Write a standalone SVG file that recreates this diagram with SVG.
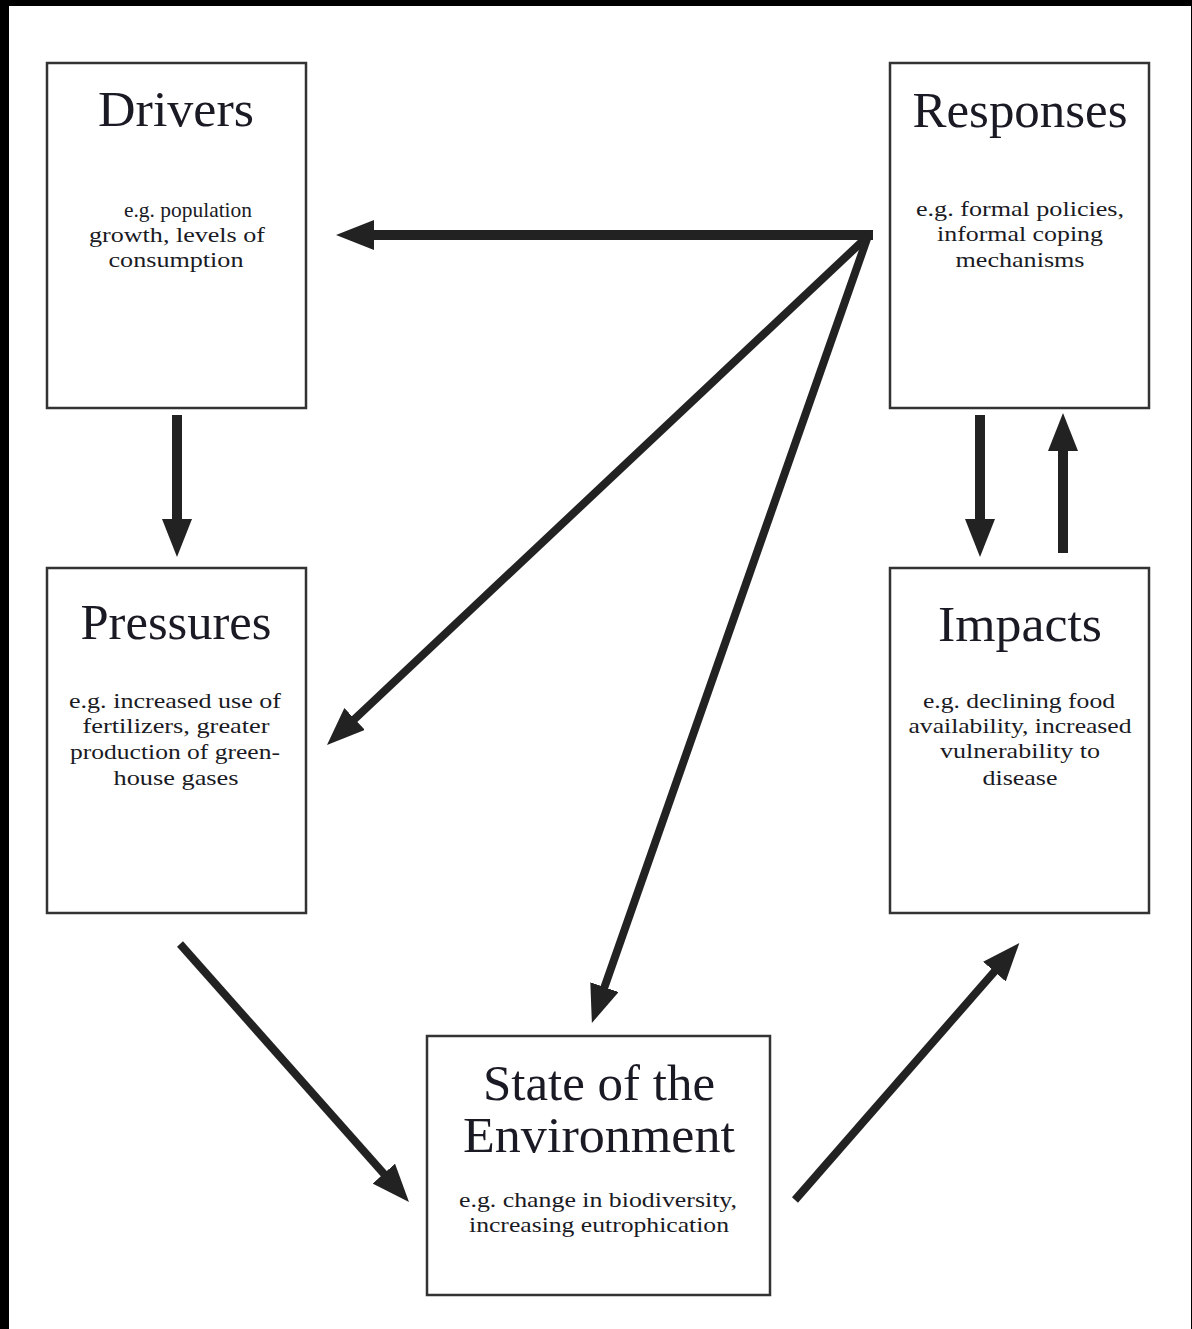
<svg xmlns="http://www.w3.org/2000/svg" width="1192" height="1329" viewBox="0 0 1192 1329">
  <defs>
    <marker id="head" markerUnits="userSpaceOnUse" viewBox="0 -15 38 30" markerWidth="38" markerHeight="30" refX="2" refY="0" orient="auto">
      <path d="M0,-15 L38,0 L0,15 Z" fill="#222"/>
    </marker>
    <style>
      .box { fill: #fff; stroke: #333; stroke-width: 2.5; }
      .title { font-family: "Liberation Serif", "Times New Roman", serif; font-size: 50px; fill: #1a1a24; text-anchor: middle; }
      .note { font-family: "Liberation Serif", "Times New Roman", serif; font-size: 22px; fill: #1a1a24; text-anchor: middle; }
      .arrow { stroke: #222; stroke-width: 10; fill: none; marker-end: url(#head); }
      .thin { stroke-width: 8; }
    </style>
  </defs>

  <!-- frame -->
  <rect x="0" y="0" width="1192" height="1329" fill="#000"/>
  <rect x="9" y="6" width="1182" height="1323" fill="#fff"/>

  <g id="drivers">
    <rect class="box" x="47" y="63" width="259" height="345"/>
    <text class="title" x="176" y="126" textLength="156" lengthAdjust="spacingAndGlyphs">Drivers</text>
    <text class="note" x="188" y="217" textLength="128" lengthAdjust="spacingAndGlyphs">e.g. population</text>
    <text class="note" x="177" y="242" textLength="176" lengthAdjust="spacingAndGlyphs">growth, levels of</text>
    <text class="note" x="176" y="267" textLength="135" lengthAdjust="spacingAndGlyphs">consumption</text>
  </g>

  <g id="responses">
    <rect class="box" x="890" y="63" width="259" height="345"/>
    <text class="title" x="1020" y="127" textLength="215" lengthAdjust="spacingAndGlyphs">Responses</text>
    <text class="note" x="1020" y="216" textLength="208" lengthAdjust="spacingAndGlyphs">e.g. formal policies,</text>
    <text class="note" x="1020" y="241" textLength="166" lengthAdjust="spacingAndGlyphs">informal coping</text>
    <text class="note" x="1020" y="267" textLength="129" lengthAdjust="spacingAndGlyphs">mechanisms</text>
  </g>

  <g id="pressures">
    <rect class="box" x="47" y="568" width="259" height="345"/>
    <text class="title" x="176" y="639" textLength="191" lengthAdjust="spacingAndGlyphs">Pressures</text>
    <text class="note" x="175" y="708" textLength="212" lengthAdjust="spacingAndGlyphs">e.g. increased use of</text>
    <text class="note" x="176" y="733" textLength="187" lengthAdjust="spacingAndGlyphs">fertilizers, greater</text>
    <text class="note" x="175" y="759" textLength="210" lengthAdjust="spacingAndGlyphs">production of green-</text>
    <text class="note" x="176" y="785" textLength="125" lengthAdjust="spacingAndGlyphs">house gases</text>
  </g>

  <g id="impacts">
    <rect class="box" x="890" y="568" width="259" height="345"/>
    <text class="title" x="1020" y="641" textLength="164" lengthAdjust="spacingAndGlyphs">Impacts</text>
    <text class="note" x="1019" y="708" textLength="192" lengthAdjust="spacingAndGlyphs">e.g. declining food</text>
    <text class="note" x="1020" y="733" textLength="223" lengthAdjust="spacingAndGlyphs">availability, increased</text>
    <text class="note" x="1020" y="758" textLength="160" lengthAdjust="spacingAndGlyphs">vulnerability to</text>
    <text class="note" x="1020" y="785" textLength="75" lengthAdjust="spacingAndGlyphs">disease</text>
  </g>

  <g id="state">
    <rect class="box" x="427" y="1036" width="343" height="259"/>
    <text class="title" x="599" y="1100" textLength="232" lengthAdjust="spacingAndGlyphs">State of the</text>
    <text class="title" x="599" y="1152" textLength="272" lengthAdjust="spacingAndGlyphs">Environment</text>
    <text class="note" x="598" y="1207" textLength="278" lengthAdjust="spacingAndGlyphs">e.g. change in biodiversity,</text>
    <text class="note" x="599" y="1232" textLength="260" lengthAdjust="spacingAndGlyphs">increasing eutrophication</text>
  </g>

  <g id="connectors">
    <!-- Drivers to Pressures -->
    <line class="arrow" x1="177" y1="415" x2="177" y2="521"/>
    <!-- Responses to Impacts -->
    <line class="arrow" x1="980" y1="415" x2="980" y2="521"/>
    <!-- Impacts to Responses -->
    <line class="arrow" x1="1063" y1="553" x2="1063" y2="449"/>
    <!-- Responses to Drivers -->
    <line class="arrow" x1="873" y1="235" x2="372" y2="235"/>
    <!-- Responses to Pressures -->
    <line class="arrow thin" x1="868" y1="236" x2="353.2" y2="720.4"/>
    <!-- Responses to State -->
    <line class="arrow thin" x1="868" y1="236" x2="603.8" y2="989"/>
    <!-- Pressures to State -->
    <line class="arrow thin" x1="180" y1="944" x2="385.1" y2="1175.1"/>
    <!-- State to Impacts -->
    <line class="arrow thin" x1="795" y1="1200" x2="995.7" y2="970.1"/>
  </g>
</svg>
